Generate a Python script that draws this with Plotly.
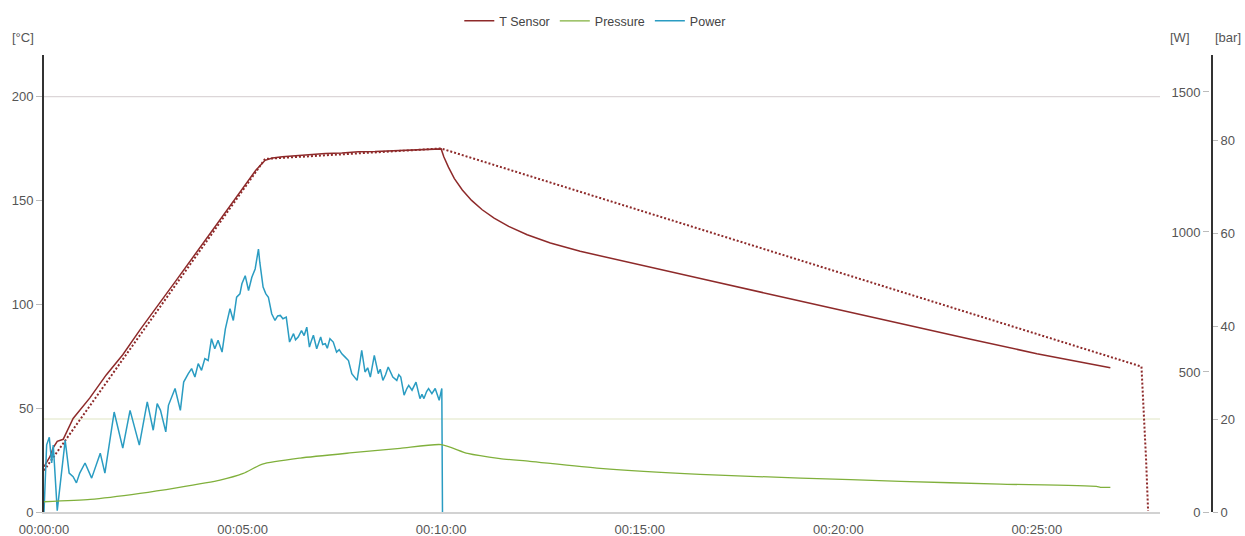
import plotly.graph_objects as go

# ---- data -------------------------------------------------------------
# time axis in seconds since start of the run
x_tickvals = [0, 300, 600, 900, 1200, 1500]
x_ticktext = ["00:00:00", "00:05:00", "00:10:00", "00:15:00", "00:20:00", "00:25:00"]

# measured sensor temperature [°C]
t_sensor_s = [0, 4, 9, 14, 20, 29, 44, 69, 94, 119, 145, 200, 250, 300, 320, 334,
              345, 360, 380, 400, 425, 450, 475, 500, 525, 550, 575, 600,
              604, 611, 620, 632, 646, 662, 680, 702, 730, 765, 810, 860, 920,
              1000, 1100, 1200, 1300, 1400, 1500, 1611]
t_sensor_c = [21.8, 24.0, 26.6, 31.0, 34.0, 35.0, 45.0, 54.8, 66.0, 75.7, 87.7,
              111.6, 133.4, 155.2, 164.5, 169.3, 170.4, 171.0, 171.6, 171.9, 172.6,
              172.8, 173.4, 173.5, 173.9, 174.0, 174.6, 174.8,
              171.0, 166.0, 160.5, 155.0, 150.0, 145.5, 141.5, 137.5, 133.5, 129.5,
              125.5, 121.8, 117.5, 111.8, 104.6, 97.4, 90.3, 83.2, 76.2, 69.4]

# temperature set profile [°C]
t_set_s = [0, 334, 600, 1658, 1665, 1668]
t_set_c = [20.0, 170.0, 175.0, 70.0, 25.0, 0.5]

# pressure [bar]
pressure_s = [0, 70, 145, 200, 266, 301, 330, 387, 462, 538, 600, 640, 689, 734,
              840, 991, 1143, 1294, 1445, 1590, 1596, 1611]
pressure_bar = [2.2, 2.7, 4.0, 5.2, 6.85, 8.3, 10.3, 11.6, 12.7, 13.7, 14.5, 12.6,
                11.5, 10.9, 9.4, 8.1, 7.3, 6.6, 6.0, 5.5, 5.3, 5.3]

# heating power [W]
power_s = [0, 2, 4, 8, 11.6, 14, 20, 32, 38, 44, 49, 54, 62, 72, 85, 92, 106, 119,
           130, 144, 156, 165, 171, 176, 184, 188, 198, 206, 211, 218, 223, 228,
           233, 238, 243, 248, 253, 258, 263, 269, 274, 281, 286, 291, 296, 299,
           304, 309, 314, 319, 324, 326, 331, 335, 339, 344, 349, 353, 357, 361,
           366, 371, 374, 377, 380, 384, 389, 393, 397, 401, 404, 407, 412, 415,
           418, 421, 425, 428, 432, 437, 442, 446, 450, 455, 460, 465, 469, 473,
           477, 480, 485, 489, 493, 499, 505, 508, 512, 516, 520, 524, 527, 533,
           536, 539, 544, 548, 551, 556, 559, 562, 568, 571, 574, 578, 581, 586,
           591, 594, 597, 601, 602]
power_w = [0, 150, 240, 267, 175, 239, 5, 256, 139, 126, 104, 139, 175, 121, 210,
           139, 357, 228, 363, 239, 393, 292, 387, 363, 286, 381, 441, 363, 464,
           494, 512, 482, 530, 506, 548, 541, 619, 583, 613, 571, 654, 726, 684,
           767, 779, 815, 844, 791, 838, 868, 939, 892, 803, 780, 767, 708, 684,
           700, 702, 690, 696, 607, 622, 637, 615, 625, 648, 630, 660, 589, 612,
           631, 583, 606, 625, 598, 601, 585, 619, 607, 571, 580, 565, 553, 541,
           494, 482, 470, 530, 577, 500, 515, 482, 559, 494, 510, 470, 490, 518,
           500, 482, 470, 490, 482, 417, 440, 452, 435, 450, 464, 405, 420, 405,
           430, 441, 423, 441, 415, 399, 441, 0]

# ---- styling ------------------------------------------------------------
FONT = "Liberation Sans, Arial, sans-serif"
TICK_FONT = dict(family=FONT, size=13, color="#555555")
RED = "#8e2a2a"
GREEN = "#80b03c"
BLUE = "#2a9cc2"

fig = go.Figure()

fig.add_trace(go.Scatter(x=t_sensor_s, y=t_sensor_c, name="T Sensor", mode="lines",
                         line=dict(color=RED, width=1.5), yaxis="y"))
fig.add_trace(go.Scatter(x=pressure_s, y=pressure_bar, name="Pressure", mode="lines",
                         line=dict(color=GREEN, width=1.3, shape="spline", smoothing=0.6),
                         yaxis="y3"))
fig.add_trace(go.Scatter(x=power_s, y=power_w, name="Power", mode="lines",
                         line=dict(color=BLUE, width=1.5), yaxis="y2"))
fig.add_trace(go.Scatter(x=t_set_s, y=t_set_c, name="T Set", mode="lines",
                         line=dict(color=RED, width=2, dash="2px,2px"), yaxis="y",
                         showlegend=False))

x_domain_end = 1116 / 1168

fig.update_layout(
    width=1245, height=536,
    margin=dict(l=44, r=33, t=55, b=24, autoexpand=False),
    paper_bgcolor="white", plot_bgcolor="white",
    font=dict(family=FONT, size=13, color="#555555"),
    showlegend=True,
    legend=dict(orientation="h", x=0.472, xanchor="center", y=1.074, yanchor="middle",
                font=dict(family=FONT, size=12.5, color="#444444"),
                itemwidth=30, bgcolor="rgba(0,0,0,0)"),
    xaxis=dict(domain=[0, x_domain_end], range=[0, 1686], showgrid=False,
               zeroline=False, showline=True, linecolor="#d2d2d2", linewidth=2,
               tickvals=x_tickvals, ticktext=x_ticktext, ticks="",
               ticklabelstandoff=4, tickfont=TICK_FONT, automargin=False),
    yaxis=dict(range=[0, 220], showgrid=False, zeroline=False, showline=True,
               linecolor="#333333", linewidth=2, ticks="outside", ticklen=6,
               tickcolor="#bbbbbb", tickvals=[0, 50, 100, 150, 200],
               tickfont=TICK_FONT, automargin=False),
    yaxis2=dict(range=[0, 1632], overlaying="y", anchor="free", position=0.9975,
                side="left", showgrid=False, zeroline=False, showline=False,
                ticks="outside", ticklen=6, tickcolor="#bbbbbb",
                tickvals=[0, 500, 1000, 1500], tickfont=TICK_FONT, automargin=False),
    yaxis3=dict(range=[0, 98.3], overlaying="y", anchor="free", position=1,
                side="right", showgrid=False, zeroline=False, showline=True,
                linecolor="#333333", linewidth=2, ticks="outside", ticklen=5,
                tickcolor="#bbbbbb", tickvals=[0, 20, 40, 60, 80],
                tickfont=TICK_FONT, automargin=False),
)

# reference lines: 200 °C and 20 bar
fig.add_shape(type="line", xref="x domain", x0=0, x1=1, yref="y", y0=200, y1=200,
              line=dict(color="#dcd6d8", width=1.2), layer="below")
fig.add_shape(type="line", xref="x domain", x0=0, x1=1, yref="y3", y0=20, y1=20,
              line=dict(color="#dfe6c4", width=1.2), layer="below")

# unit labels above the axes
for txt, px in [("[°C]", 10), ("[W]", 1168), ("[bar]", 1213)]:
    fig.add_annotation(text=txt, xref="paper", yref="paper",
                       x=(px - 44) / 1168, y=1 + (55 - 38) / 457,
                       xanchor="left", yanchor="middle", showarrow=False,
                       font=dict(family=FONT, size=13, color="#555555"))

fig.write_html("out.html")
